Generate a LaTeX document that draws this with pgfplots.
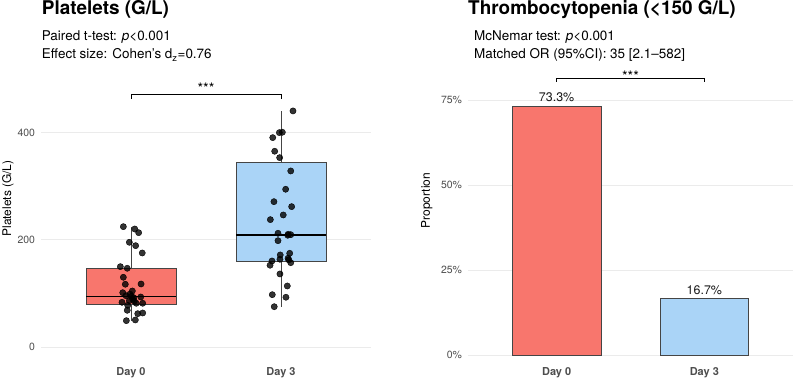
\documentclass[border=0pt]{standalone}
\usepackage{fontspec}
\setmainfont{TeX Gyre Heros}
\usepackage{pgfplots}
\pgfplotsset{compat=1.18}

\definecolor{redfill}{HTML}{F8766D}
\definecolor{bluefill}{HTML}{AAD4F7}
\definecolor{gridc}{HTML}{EBEBEB}
\definecolor{ticklab}{HTML}{4D4D4D}
\definecolor{outline}{HTML}{454545}

\pgfplotsset{
  panel/.style={
    scale only axis, anchor=south west,
    xmin=0.4, xmax=2.6, xtick={1,2}, xticklabels={Day 0,Day 3},
    axis line style={draw=none}, major tick length=0pt,
    ymajorgrids, grid style={gridc, line width=0.9bp},
    xticklabel style={font=\fontsize{11}{13}\selectfont\bfseries, text=ticklab, yshift=-3.7bp},
    yticklabel style={font=\fontsize{10.5}{12}\selectfont, text=ticklab, xshift=-2.5bp},
    /pgf/number format/assume math mode=true,
    clip=false,
  },
  pts/.style={only marks, mark=*, mark size=3.1bp,
    mark options={fill=black, draw=none, fill opacity=0.8}},
  boxst/.style={draw=outline, line width=0.7bp},
  whisk/.style={outline, line width=0.7bp},
  med/.style={black, line width=1.2bp},
  sig/.style={black, line width=0.6bp},
}

\begin{document}
\begin{tikzpicture}
\useasboundingbox (0,0) rectangle (794bp,378bp);

% ---------- left panel: platelet counts ----------
\node[anchor=base west, inner sep=0pt, font=\fontsize{19}{22}\selectfont\bfseries] at (41.7bp,363bp) {Platelets (G/L)};
\node[anchor=base west, inner sep=0pt, font=\fontsize{13.5}{16}\selectfont] at (41.7bp,337.3bp) {Paired t-test: \textit{p}<0.001};
\node[anchor=base west, inner sep=0pt, font=\fontsize{13.5}{16}\selectfont] at (41.7bp,319bp) {Effect size: Cohen’s d\textsubscript{z}=0.76};
\node[rotate=90, font=\fontsize{12}{14}\selectfont] at (8bp,179.5bp) {Platelets (G/L)};

\begin{axis}[panel, at={(41bp,17.3bp)}, width=330bp, height=281.8bp,
  ymin=-25, ymax=500, ytick={0,200,400}]
% Day 0 box: whiskers, box (Q1..Q3), median
\addplot[whisk] coordinates {(1,147.6) (1,224.7)};
\addplot[whisk] coordinates {(1,49.6) (1,80.9)};
\addplot[boxst, fill=redfill] coordinates {(0.7,80.9) (1.3,80.9) (1.3,147.6) (0.7,147.6)} -- cycle;
\addplot[med] coordinates {(0.7,95) (1.3,95)};
% Day 3 box
\addplot[whisk] coordinates {(2,344.4) (2,440.3)};
\addplot[whisk] coordinates {(2,75.6) (2,159.8)};
\addplot[boxst, fill=bluefill] coordinates {(1.7,159.8) (2.3,159.8) (2.3,344.4) (1.7,344.4)} -- cycle;
\addplot[med] coordinates {(1.7,209) (2.3,209)};

% Day 0 (jittered)
\addplot[pts] coordinates {
  (0.949,224.7) (1.025,220.4) (1.051,213.5) (0.989,195.6) (1.031,189.3)
  (1.075,175.7) (0.929,150.2) (0.975,147.2) (0.949,130.4) (0.962,117.4)
  (1.067,117.9) (0.945,101.7) (1.009,104.9) (0.967,96.1) (1.018,92.4)
  (1.065,93.7) (0.940,83.8) (0.989,86.8) (1.035,82.0) (1.078,82.0)
  (0.978,78.2) (0.975,68.9) (1.045,62.6) (1.078,63.9) (0.969,49.6)
  (1.029,50.9) (1.003,95.0) (1.012,89.5) (0.993,99.0) (1.022,86.0)
};
% Day 3 (jittered)
\addplot[pts] coordinates {
  (2.080,440.3) (2.009,400.6) (1.989,399.9) (1.945,390.6) (1.958,365.2)
  (1.991,353.3) (2.065,328.5) (2.031,294.4) (1.953,271.3) (2.071,262.0)
  (2.015,246.5) (1.929,237.8) (1.980,212.4) (2.045,208.7) (2.065,209.8)
  (1.980,198.6) (1.995,172.0) (2.058,175.1) (2.047,165.8) (1.993,164.0)
  (1.940,160.8) (1.927,152.8) (2.065,157.6) (1.993,136.6) (2.042,114.2)
  (1.942,98.0) (2.033,93.2) (1.955,75.6) (2.048,210.5) (2.052,163.0)
};

% significance bracket
\addplot[sig] coordinates {(1,463.2) (1,472) (2,472) (2,463.2)};
\node[font=\fontsize{14.5}{16}\selectfont] at (axis cs:1.5,482) {***};
\end{axis}

% ---------- right panel: thrombocytopenia ----------
\node[anchor=base west, inner sep=0pt, font=\fontsize{19}{22}\selectfont\bfseries] at (468bp,363bp) {Thrombocytopenia (<150 G/L)};
\node[anchor=base west, inner sep=0pt, font=\fontsize{13.5}{16}\selectfont] at (474bp,337.3bp) {McNemar test: \textit{p}<0.001};
\node[anchor=base west, inner sep=0pt, font=\fontsize{13.5}{16}\selectfont] at (474bp,319bp) {Matched OR (95\%CI): 35 [2.1–582]};
\node[rotate=90, font=\fontsize{12}{14}\selectfont] at (426.7bp,177.5bp) {Proportion};

\begin{axis}[panel, at={(468bp,17.3bp)}, width=325bp, height=297.8bp,
  ymin=-1.59, ymax=86, ytick={0,25,50,75}, yticklabels={0\%,25\%,50\%,75\%}]
\addplot[ybar, bar shift=0pt, bar width=88.6bp, fill=redfill, draw=outline, line width=0.7bp,
  nodes near coords={\pgfmathprintnumber[fixed,fixed zerofill,precision=1]{\pgfplotspointmeta}\%},
  every node near coord/.append style={font=\fontsize{12.5}{14}\selectfont, text=black!90, anchor=base, yshift=4.5bp}]
  coordinates {(1,73.3)};
\addplot[ybar, bar shift=0pt, bar width=88.6bp, fill=bluefill, draw=outline, line width=0.7bp,
  nodes near coords={\pgfmathprintnumber[fixed,fixed zerofill,precision=1]{\pgfplotspointmeta}\%},
  every node near coord/.append style={font=\fontsize{12.5}{14}\selectfont, text=black!90, anchor=base, yshift=4.5bp}]
  coordinates {(2,16.7)};

% significance bracket
\addplot[sig] coordinates {(1,80.4) (1,81.5) (2,81.5) (2,80.4)};
\node[font=\fontsize{14.5}{16}\selectfont] at (axis cs:1.5,82.1) {***};
\end{axis}
\end{tikzpicture}
\end{document}
